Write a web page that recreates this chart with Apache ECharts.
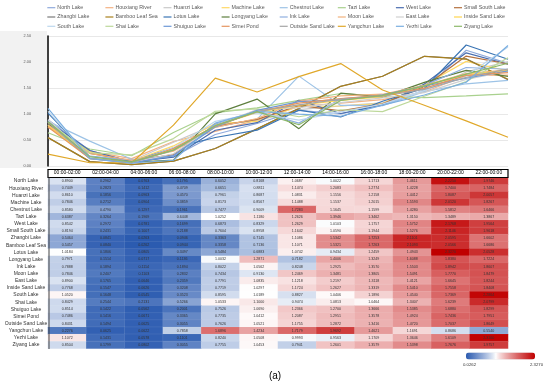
<!DOCTYPE html>
<html><head><meta charset="utf-8">
<script src="https://cdn.jsdelivr.net/npm/echarts@6/dist/echarts.min.js"></script>
<style>html,body{margin:0;padding:0;background:#fff}#c{width:550px;height:384px}</style>
</head><body><div id="c"></div>
<script>
// ---- data ----
const timeSlots = ['00:00-02:00','02:00-04:00','04:00-06:00','06:00-08:00','08:00-10:00','10:00-12:00','12:00-14:00','14:00-16:00','16:00-18:00','18:00-20:00','20:00-22:00','22:00-00:00'];
const lakes = ['North Lake','Houxiang River','Huanzi Lake','Machine Lake','Chestnut Lake','Tazi Lake','West Lake','Small South Lake','Zhangbi Lake','Bamboo Leaf Sea','Lotus Lake','Longyang Lake','Ink Lake','Moon Lake','East Lake','Inside Sand Lake','South Lake','Shai Lake','Shuiguo Lake','Simei Pond','Outside Sand Lake','Yangchun Lake','Yezhi Lake','Ziyang Lake'];
const northLake      = [0.8900,0.2962,0.0763,0.1795,0.6052,0.8168,1.0687,1.0022,1.1713,1.4611,2.2250,1.9746];
const houxiangRiver  = [0.7449,0.2823,0.1412,0.4709,0.6651,0.8811,1.1474,1.2083,1.2774,1.4228,1.7400,1.7484];
const huanziLake     = [0.8610,0.1856,0.0963,0.4570,0.7961,0.8687,1.0831,1.1556,1.2158,1.4412,1.8087,2.0057];
const machineLake    = [0.7846,0.2712,0.0904,0.3859,0.8173,0.8567,1.1488,1.1537,1.2015,1.5593,2.0120,1.8267];
const chestnutLake   = [0.8580,0.4790,0.1297,0.1961,0.7477,0.9009,1.7283,1.1645,1.1599,1.4280,1.5812,1.6466];
const taziLake       = [0.6387,0.3264,0.1969,0.6448,1.0252,1.1180,1.2626,1.3946,1.3462,1.3150,1.3489,1.3867];
const westLake       = [0.8542,0.2972,0.0781,0.1699,0.6873,0.8329,1.2629,1.0103,1.1757,1.5752,2.1768,1.9564];
const smallSouthLake = [0.8194,0.2431,0.1007,0.2188,0.7604,0.8958,1.1642,1.0590,1.1944,1.5276,2.1146,1.9618];
const zhangbiLake    = [0.5464,0.0841,0.0263,0.0946,0.3363,0.7145,1.1086,1.5342,1.7253,2.1101,2.0595,1.6602];
const bambooLeafSea  = [0.5457,0.0840,0.0262,0.0944,0.3358,0.7136,1.1071,1.5321,1.7263,2.1093,2.0566,1.6686];
const lotusLake      = [1.0184,0.1806,0.0805,0.3497,0.5484,0.6883,1.0742,0.9434,1.2459,1.4943,2.3270,2.0528];
const longyangLake   = [0.7971,0.1514,0.0717,0.1136,1.0032,1.2871,0.7182,1.4006,1.3249,1.6088,1.8380,1.7224];
const inkLake        = [0.7888,0.1894,0.1114,0.1894,0.8022,1.0562,0.8248,1.2925,1.3570,1.5503,1.8942,1.8607];
const moonLake       = [0.7846,0.2407,0.1103,0.2832,0.7434,0.9130,1.2469,1.3481,1.3805,1.5491,1.7770,1.8479];
const eastLake       = [0.8900,0.1765,0.0646,0.2359,0.7791,1.0835,1.1218,1.2197,1.3118,1.4121,1.6645,1.8244];
const insideSandLake = [0.7768,0.1547,0.0626,0.3208,0.7719,1.0297,1.1724,1.2627,1.3319,1.5410,1.7558,1.8408];
const southLake      = [1.0520,0.1648,0.0545,0.3523,0.8595,1.0189,0.8827,1.0406,1.1896,1.4540,1.7369,2.2864];
const shaiLake       = [0.8429,0.2544,0.2131,0.5266,1.0533,1.1000,0.9474,1.0813,1.0464,1.3407,1.6239,2.0799];
const shuiguoLake    = [0.8514,0.1422,0.0562,0.2001,0.7526,1.0690,1.2366,1.2700,1.3666,1.5385,1.6880,1.8299];
const simeiPond      = [0.7486,0.1416,0.0671,0.3365,0.7735,1.0412,1.2087,1.2951,1.3578,1.4924,1.7436,1.7951];
const outsideSandLake= [0.8431,0.1494,0.0625,0.3055,0.7626,1.0521,1.1755,1.2872,1.3416,1.4720,1.7037,1.8649];
const yangchunLake   = [0.2276,0.0625,0.0622,0.7858,1.6896,1.4234,1.7179,1.9692,1.4621,1.1691,0.8686,0.5540];
const yezhiLake      = [1.1072,0.1431,0.0578,0.1101,0.8240,1.0508,0.9993,0.9563,1.1709,1.3646,1.6109,2.3160];
const ziyangLake     = [0.8504,0.1799,0.0802,0.3055,0.7755,1.0453,0.7941,1.2601,1.3579,1.5398,1.7676,1.9757];
const yTicks = [0, 0.5, 1.0, 1.5, 2.0, 2.5];

const values = [northLake,houxiangRiver,huanziLake,machineLake,chestnutLake,taziLake,westLake,smallSouthLake,zhangbiLake,bambooLeafSea,lotusLake,longyangLake,inkLake,moonLake,eastLake,insideSandLake,southLake,shaiLake,shuiguoLake,simeiPond,outsideSandLake,yangchunLake,yezhiLake,ziyangLake];

// ---- styles ----
const lineColors = ['#8FAADC','#F4B183','#C9C9C9','#FFD966','#9DC3E6','#A9D18E','#4A6DAF','#B4713F','#7B7B7B','#A8801E','#3B75B4','#5E7F3E','#8FB0E0','#F2B27E','#D0D0D0','#FFD54F','#BDD7EE','#BDD89A','#6D98D6','#E59560','#A5A5A5','#E0A82A','#7AAEE0','#8DB96A'];
const FONT = 'Liberation Sans';

const allVals = values.flat();
const vMin = Math.min(...allVals), vMax = Math.max(...allVals);

// color scale: blue -> white -> red, white near the median
function hex(c){return [parseInt(c.slice(1,3),16),parseInt(c.slice(3,5),16),parseInt(c.slice(5,7),16)];}
function toHex(a){return '#'+a.map(v=>Math.round(v).toString(16).padStart(2,'0')).join('');}
const cLow = hex('#2B5BB0'), cMid = hex('#FFFFFF'), cHigh = hex('#C00000');
const whiteAt = 0.433, gamma = 0.85;
const stops = [];
for (let i=0;i<=60;i++){
  const f=i/60; let c;
  if (f<=whiteAt){const d=Math.pow(1-f/whiteAt,gamma); c=cMid.map((v,k)=>v+(cLow[k]-v)*d);}
  else {const d=Math.pow((f-whiteAt)/(1-whiteAt),gamma); c=cMid.map((v,k)=>v+(cHigh[k]-v)*d);}
  stops.push(toHex(c));
}

const series = lakes.map((name,i)=>({
  name, type:'line', xAxisIndex:0, yAxisIndex:0, data: values[i],
  symbol:'none', lineStyle:{width:1.2, color: lineColors[i]}, itemStyle:{color: lineColors[i]},
  emphasis:{disabled:true}, silent:true
}));
const heatData = [];
values.forEach((row,r)=>row.forEach((v,c)=>heatData.push([c,r,v])));
series.push({
  type:'heatmap', xAxisIndex:1, yAxisIndex:1, data: heatData,
  label:{show:true, fontSize:3.6, fontFamily:FONT, color:'#333', formatter:p=>p.value[2].toFixed(4)},
  itemStyle:{borderColor:'rgba(255,255,255,0.25)', borderWidth:0.3},
  emphasis:{disabled:true}, silent:true
});

const legends = [];
for (let j=0;j<8;j++){
  legends.push({
    orient:'vertical', left: 58.3 + 58.1*j - 11, top: 4.7, padding:0,
    icon:'rect', itemWidth:8, itemHeight:1.2, itemGap:3.3, selectedMode:false,
    textStyle:{fontSize:5.3, color:'#595959', fontFamily:FONT, lineHeight:6, padding:[0,0,0,-3]},
    data:[lakes[j], lakes[8+j], lakes[16+j]]
  });
}

const chart = echarts.init(document.getElementById('c'), null, {renderer:'canvas'});
chart.setOption({
  animation:false,
  backgroundColor:'#fff',
  textStyle:{fontFamily:FONT},
  legend: legends,
  grid:[
    {left:48, right:42, top:36, height:130},
    {left:48, right:42, top:177.5, height:171}
  ],
  xAxis:[
    {type:'category', gridIndex:0, data:timeSlots, boundaryGap:false, show:false},
    {type:'category', gridIndex:1, data:timeSlots, position:'top',
     axisLine:{show:false}, axisTick:{show:false}, splitLine:{show:false},
     axisLabel:{fontSize:5, color:'#000', margin:2, fontFamily:FONT}}
  ],
  yAxis:[
    {type:'value', gridIndex:0, min:yTicks[0], max:yTicks[yTicks.length-1], interval:0.5,
     axisLine:{show:true, lineStyle:{color:'#000', width:1.5}}, axisTick:{show:false},
     splitLine:{lineStyle:{color:'#d9d9d9', width:0.6}},
     axisLabel:{fontSize:3.8, color:'#595959', margin:17, formatter:v=>v.toFixed(2), fontFamily:FONT}},
    {type:'category', gridIndex:1, data:lakes, inverse:true,
     axisLine:{show:false}, axisTick:{show:false}, splitLine:{show:false},
     axisLabel:{fontSize:5, color:'#333', align:'center', margin:22, fontFamily:FONT}}
  ],
  visualMap:{
    type:'continuous', min:vMin, max:vMax, seriesIndex:24, orient:'horizontal',
    left:466, top:352.5, itemWidth:7, itemHeight:69, padding:0,
    calculable:false, showLabel:false, inRange:{color:stops}
  },
  graphic:[
    {type:'rect', z:-10, silent:true, shape:{x:0,y:31,width:47,height:137}, style:{fill:'#f2f2f2'}},
    {type:'rect', z:100, silent:true, shape:{x:48,y:169.5,width:460,height:8}, style:{fill:'none', stroke:'#000', lineWidth:1.2}},
    {type:'line', z:100, silent:true, shape:{x1:49,y1:177.5,x2:49,y2:349}, style:{stroke:'#444', lineWidth:1}},
    {type:'text', z:100, silent:true, style:{text:vMin.toFixed(4), x:469.5, y:365, align:'center', verticalAlign:'middle', textAlign:'center', textVerticalAlign:'middle', fontSize:4.3, fontFamily:FONT, fill:'#333'}},
    {type:'text', z:100, silent:true, style:{text:vMax.toFixed(4), x:536.5, y:365, align:'center', verticalAlign:'middle', textAlign:'center', textVerticalAlign:'middle', fontSize:4.3, fontFamily:FONT, fill:'#333'}},
    {type:'text', z:100, silent:true, style:{text:'(a)', x:275, y:376, align:'center', verticalAlign:'middle', textAlign:'center', textVerticalAlign:'middle', fontSize:10, fontFamily:FONT, fill:'#000'}}
  ],
  series
});
</script></body></html>
